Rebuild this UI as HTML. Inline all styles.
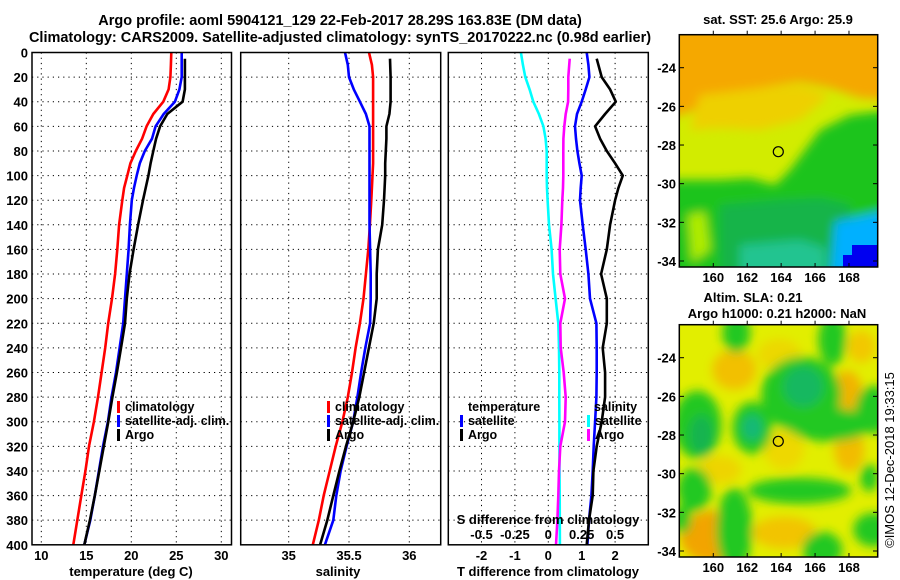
<!DOCTYPE html>
<html><head><meta charset="utf-8"><style>
html,body{margin:0;padding:0;background:#fff;}
svg{display:block;font-family:"Liberation Sans",sans-serif;}
.b{font-weight:bold;font-size:13px;fill:#000;}
.l{font-weight:bold;font-size:12.5px;fill:#000;}
.t{font-weight:bold;font-size:14.5px;fill:#000;}
</style></head><body>
<svg id="chart" width="900" height="580" viewBox="0 0 900 580" xmlns="http://www.w3.org/2000/svg">
<defs>
<filter id="bl" x="-20%" y="-20%" width="140%" height="140%"><feGaussianBlur stdDeviation="5"/></filter>
<filter id="bl2" x="-30%" y="-30%" width="160%" height="160%"><feGaussianBlur stdDeviation="5"/></filter>
<clipPath id="c1"><rect x="679.3" y="34.7" width="198.4" height="232.3"/></clipPath>
<clipPath id="c2"><rect x="679.3" y="324.7" width="198.4" height="232.3"/></clipPath>
</defs>
<text class="t" x="340" y="25" text-anchor="middle">Argo profile: aoml 5904121_129 22-Feb-2017 28.29S 163.83E (DM data)</text>
<text class="t" x="340" y="42" text-anchor="middle">Climatology: CARS2009. Satellite-adjusted climatology: synTS_20170222.nc (0.98d earlier)</text>

<!-- SST map -->
<g>
<text class="b" x="778" y="24" text-anchor="middle">sat. SST: 25.6 Argo: 25.9</text>
<g clip-path="url(#c1)">
<rect x="679" y="34" width="200" height="234" fill="#d2ec00"/>
<g filter="url(#bl)">
<path d="M670,25 L890,25 L890,100 L860,98 L830,88 L800,82 L760,88 L720,100 L690,112 L670,118 Z" fill="#f5a800"/>
<path d="M700,95 L760,88 L800,85 L830,95 L800,120 L760,130 L720,128 L690,130 Z" fill="#eed000"/>
<path d="M670,180 L720,180 L750,178 L775,185 L790,170 L805,150 L820,130 L850,115 L890,110 L890,280 L670,280 Z" fill="#1ec41a"/>
<path d="M720,205 L780,200 L820,198 L850,205 L850,280 L720,280 Z" fill="#18b448"/>
<path d="M740,245 L800,240 L825,248 L825,280 L740,280 Z" fill="#20c490"/>
<path d="M835,222 L890,210 L890,280 L830,280 Z" fill="#00b0ff"/>
<path d="M688,215 L705,212 L710,250 L692,262 Z" fill="#b0ec00"/>
</g>
<rect x="852" y="245" width="26" height="23" fill="#0000f0"/>
<rect x="843" y="255" width="10" height="13" fill="#0000f0"/>
</g>
<rect x="679.3" y="34.7" width="198.4" height="232.3" fill="none" stroke="#000" stroke-width="1.5"/>
<circle cx="778.3" cy="151.7" r="5" fill="none" stroke="#000" stroke-width="1.2"/>
</g>

<!-- SLA map -->
<g>
<text class="b" x="753" y="302" text-anchor="middle">Altim. SLA: 0.21</text>
<text class="b" x="777" y="318" text-anchor="middle">Argo h1000: 0.21 h2000: NaN</text>
<g clip-path="url(#c2)">
<rect x="679" y="324" width="200" height="234" fill="#e2ee00"/>
<g transform="translate(679.3,324.7)" filter="url(#bl2)">
<ellipse cx="55" cy="45" rx="22" ry="20" fill="#f2c000"/>
<ellipse cx="168" cy="68" rx="15" ry="22" fill="#f2b400"/>
<ellipse cx="35" cy="212" rx="34" ry="26" fill="#f2a400"/>
<ellipse cx="170" cy="125" rx="15" ry="22" fill="#f2bc00"/>
<ellipse cx="105" cy="208" rx="32" ry="16" fill="#f2c400"/>
<ellipse cx="182" cy="22" rx="14" ry="16" fill="#f2c800"/>
<ellipse cx="105" cy="125" rx="20" ry="20" fill="#eed800"/>
<ellipse cx="40" cy="145" rx="22" ry="14" fill="#eed400"/>
<ellipse cx="100" cy="30" rx="22" ry="16" fill="#ecd800"/>
<g fill="#22c820">
<ellipse cx="57" cy="8" rx="14" ry="20"/>
<ellipse cx="122" cy="70" rx="40" ry="38"/>
<ellipse cx="153" cy="15" rx="14" ry="26"/>
<ellipse cx="18" cy="100" rx="24" ry="34"/>
<ellipse cx="73" cy="103" rx="20" ry="26"/>
<ellipse cx="194" cy="85" rx="18" ry="24"/>
<ellipse cx="150" cy="100" rx="42" ry="17"/>
<ellipse cx="15" cy="165" rx="17" ry="22"/>
<ellipse cx="120" cy="166" rx="52" ry="13"/>
<ellipse cx="55" cy="205" rx="18" ry="42"/>
<ellipse cx="143" cy="225" rx="20" ry="18"/>
<ellipse cx="194" cy="205" rx="20" ry="17"/>
<ellipse cx="3" cy="195" rx="9" ry="14"/>
<ellipse cx="190" cy="153" rx="9" ry="14"/>
</g>
<ellipse cx="124" cy="62" rx="20" ry="20" fill="#18b860"/>
<ellipse cx="73" cy="103" rx="10" ry="13" fill="#18b878"/>
<ellipse cx="22" cy="110" rx="12" ry="20" fill="#18b450"/>
</g>
</g>
<rect x="679.3" y="324.7" width="198.4" height="232.3" fill="none" stroke="#000" stroke-width="1.5"/>
<circle cx="778.3" cy="441.3" r="5" fill="none" stroke="#000" stroke-width="1.2"/>
</g>
<text x="0" y="0" font-size="13" transform="translate(894,460) rotate(-90)" text-anchor="middle">©IMOS 12-Dec-2018 19:33:15</text>
<g id="dyn"></g>
</svg>
<script>
var depths = [0,10,20,30,40,50,60,70,80,90,100,110,120,140,160,180,200,220,240,260,280,300,320,340,360,380,400];
var tempClim = [24.44,24.4,24.35,24.15,23.56,22.45,21.7,21.2,20.5,19.9,19.55,19.2,19.0,18.65,18.45,18.2,17.85,17.43,17.1,16.7,16.3,15.85,15.3,14.9,14.45,14.0,13.56];
var tempSat = [25.6,25.6,25.6,25.35,24.85,23.6,22.7,22.3,21.5,20.95,20.6,20.3,20.05,19.85,19.7,19.5,19.3,19.1,18.7,18.3,17.8,17.4,16.85,16.4,15.95,15.45,14.78];
var tempArgo = [null,25.96,25.96,25.96,25.7,24.0,23.2,22.75,22.45,22.15,21.9,21.6,21.3,20.75,20.25,19.8,19.5,19.3,18.85,18.4,17.9,17.45,16.95,16.45,15.95,15.4,14.78];
var salClim = [35.666,35.69,35.70,35.70,35.70,35.70,35.70,35.70,35.70,35.70,35.695,35.69,35.685,35.673,35.66,35.64,35.62,35.59,35.555,35.525,35.49,35.445,35.39,35.34,35.29,35.25,35.20];
var salSat = [35.467,35.49,35.50,35.54,35.59,35.64,35.67,35.67,35.67,35.67,35.67,35.67,35.67,35.67,35.675,35.68,35.68,35.675,35.635,35.60,35.57,35.535,35.48,35.43,35.395,35.37,35.30];
var salArgo = [null,35.84,35.845,35.845,35.845,35.835,35.81,35.81,35.805,35.80,35.80,35.795,35.79,35.775,35.74,35.73,35.73,35.705,35.665,35.625,35.585,35.535,35.475,35.42,35.37,35.32,35.26];
var tDiffSat = [1.15,1.2,1.23,1.12,1.0,0.86,0.8,0.83,0.87,0.93,1.0,0.97,0.95,1.03,1.12,1.2,1.25,1.44,1.45,1.45,1.44,1.4,1.36,1.33,1.29,1.22,1.17];
var tDiffArgo = [null,1.45,1.6,1.85,2.02,1.7,1.4,1.55,1.75,2.0,2.23,2.1,2.0,1.85,1.75,1.58,1.75,1.75,1.63,1.7,1.7,1.6,1.45,1.35,1.33,1.22,1.15];
var sDiffSat = [-0.205,-0.19,-0.172,-0.14,-0.112,-0.07,-0.037,-0.02,-0.012,-0.012,-0.012,-0.01,-0.005,0.005,0.025,0.035,0.055,0.075,0.08,0.082,0.082,0.083,0.083,0.084,0.085,0.086,0.087];
var sDiffArgo = [null,0.16,0.15,0.15,0.148,0.13,0.12,0.113,0.112,0.112,0.112,0.11,0.105,0.098,0.085,0.09,0.125,0.09,0.093,0.115,0.13,0.125,0.09,0.08,0.075,0.068,0.058];
var depthTicks = [0,20,40,60,80,100,120,140,160,180,200,220,240,260,280,300,320,340,360,380,400];
var tempTicks = [10,15,20,25,30];
var salTicks = [35,35.5,36];
var salTickLabels = ["35","35.5","36"];
var tDiffTicks = [-2,-1,0,1,2];
var sDiffTicks = [-0.5,-0.25,0,0.25,0.5];
var sDiffTickLabels = ["-0.5","-0.25","0","0.25","0.5"];
var latTicks = [-24,-26,-28,-30,-32,-34];
var lonTicks = [160,162,164,166,168];

var NS = "http://www.w3.org/2000/svg";
var root = document.getElementById("dyn");
function mk(tag, attrs, parent) {
  var e = document.createElementNS(NS, tag);
  for (var k in attrs) e.setAttribute(k, attrs[k]);
  (parent || root).appendChild(e);
  return e;
}
var TOP = 52.5, BOT = 544.8;
function yD(d) { return TOP + (BOT - TOP) * d / 400; }
function xT(t) { return 41.3 + (t - 10) * 9; }
function xS(s) { return 288.7 + (s - 35) * 120.6; }
function xTD(v) { return 548.3 + v * 33.4; }
function xSD(v) { return 548.3 + v * 133.6; }
function lonX(l) { return 713.3 + (l - 160) * 16.96; }
function latY1(l) { return 67.7 + (-24 - l) * 19.33; }
function latY2(l) { return 357.7 + (-24 - l) * 19.33; }

var panels = [{x0: 32, x1: 231.5, name: "temperature-panel"}, {x0: 240.7, x1: 440.7, name: "salinity-panel"}, {x0: 448.3, x1: 648.3, name: "difference-panel"}];

function grid(p, xs) {
  var g = mk("g", {});
  
  
  depthTicks.forEach(function (d) {
    if (d === 0 || d === 400) return;
    var l = mk("line", {x1: p.x0, x2: p.x1, y1: yD(d), y2: yD(d), stroke: "#000", "stroke-width": 1, "stroke-dasharray": "1.2,4"}, g);
    
    
  });
  xs.forEach(function (x) {
    var l = mk("line", {x1: x, x2: x, y1: TOP, y2: BOT, stroke: "#000", "stroke-width": 1, "stroke-dasharray": "1.2,4"}, g);
    
    
  });
}
function frame(p) {
  var r = mk("rect", {x: p.x0, y: TOP, width: p.x1 - p.x0, height: BOT - TOP, fill: "none", stroke: "#000", "stroke-width": 1.5});
  
  
}
function series(vals, xf, color, name) {
  var d = "", started = false;
  for (var i = 0; i < depths.length; i++) {
    if (vals[i] === null) continue;
    d += (started ? "L" : "M") + xf(vals[i]).toFixed(1) + "," + yD(i === 1 && vals[0] === null ? 5 : depths[i]).toFixed(1);
    started = true;
  }
  var p = mk("path", {d: d, fill: "none", stroke: color, "stroke-width": 2.6, "stroke-linejoin": "round"});
  
  
}
function txt(x, y, s, cls, anchor, name) {
  var t = mk("text", {x: x, y: y, "class": cls, "text-anchor": anchor || "start"});
  t.textContent = s;
  
  
  return t;
}
function legend(x, y, color, label) {
  var r = mk("rect", {x: x, y: y - 10, width: 3, height: 12, fill: color});
  
  
  txt(x + 8, y, label, "l", "start", "legend-entry");
}

grid(panels[0], tempTicks.map(xT));
grid(panels[1], salTicks.map(xS));
grid(panels[2], tDiffTicks.map(xTD));

series(tempClim, xT, "#ff0000", "temp-climatology-line");
series(tempSat, xT, "#0000ff", "temp-satellite-line");
series(tempArgo, xT, "#000000", "temp-argo-line");
series(salClim, xS, "#ff0000", "sal-climatology-line");
series(salSat, xS, "#0000ff", "sal-satellite-line");
series(salArgo, xS, "#000000", "sal-argo-line");
series(sDiffSat, xSD, "#00ffff", "sdiff-satellite-line");
series(sDiffArgo, xSD, "#ff00ff", "sdiff-argo-line");
series(tDiffSat, xTD, "#0000ff", "tdiff-satellite-line");
series(tDiffArgo, xTD, "#000000", "tdiff-argo-line");

panels.forEach(frame);

depthTicks.forEach(function (d) { txt(28, yD(d) + 5, String(d), "b", "end", "depth-tick-label"); });
tempTicks.forEach(function (t) { txt(xT(t), 560, String(t), "b", "middle", "temp-tick-label"); });
salTicks.forEach(function (s, i) { txt(xS(s), 560, salTickLabels[i], "b", "middle", "sal-tick-label"); });
tDiffTicks.forEach(function (v) { txt(xTD(v), 560, String(v), "b", "middle", "tdiff-tick-label"); });
sDiffTicks.forEach(function (v, i) { txt(xSD(v), 539, sDiffTickLabels[i], "b", "middle", "sdiff-tick-label"); });
txt(131, 576, "temperature (deg C)", "b", "middle", "x-axis-title-temperature");
txt(338, 576, "salinity", "b", "middle", "x-axis-title-salinity");
txt(548, 576, "T difference from climatology", "b", "middle", "x-axis-title-tdiff");
txt(548, 524, "S difference from climatology", "b", "middle", "sdiff-axis-title");

legend(117, 411, "#ff0000", "climatology");
legend(117, 425, "#0000ff", "satellite-adj. clim.");
legend(117, 439, "#000000", "Argo");
legend(327, 411, "#ff0000", "climatology");
legend(327, 425, "#0000ff", "satellite-adj. clim.");
legend(327, 439, "#000000", "Argo");
txt(468, 411, "temperature", "l", "start", "legend-header-temperature");
legend(460, 425, "#0000ff", "satellite");
legend(460, 439, "#000000", "Argo");
txt(594, 411, "salinity", "l", "start", "legend-header-salinity");
legend(587, 425, "#00ffff", "satellite");
legend(587, 439, "#ff00ff", "Argo");

[latY1, latY2].forEach(function (fy, k) {
  var top = k === 0 ? 34.7 : 324.7, bot = top + 232.3;
  latTicks.forEach(function (l) {
    txt(676, fy(l) + 5, String(l), "b", "end", "lat-tick-label");
    var a = mk("line", {x1: 679.3, x2: 684, y1: fy(l), y2: fy(l), stroke: "#000"});
    
    
    var b = mk("line", {x1: 873, x2: 877.7, y1: fy(l), y2: fy(l), stroke: "#000"});
    
    
  });
  lonTicks.forEach(function (l) {
    txt(lonX(l), bot + 15, String(l), "b", "middle", "lon-tick-label");
    var a = mk("line", {x1: lonX(l), x2: lonX(l), y1: bot, y2: bot - 4, stroke: "#000"});
    
    
    var b = mk("line", {x1: lonX(l), x2: lonX(l), y1: top, y2: top - 4, stroke: "#000"});
    
    
  });
});
</script>
</body></html>
